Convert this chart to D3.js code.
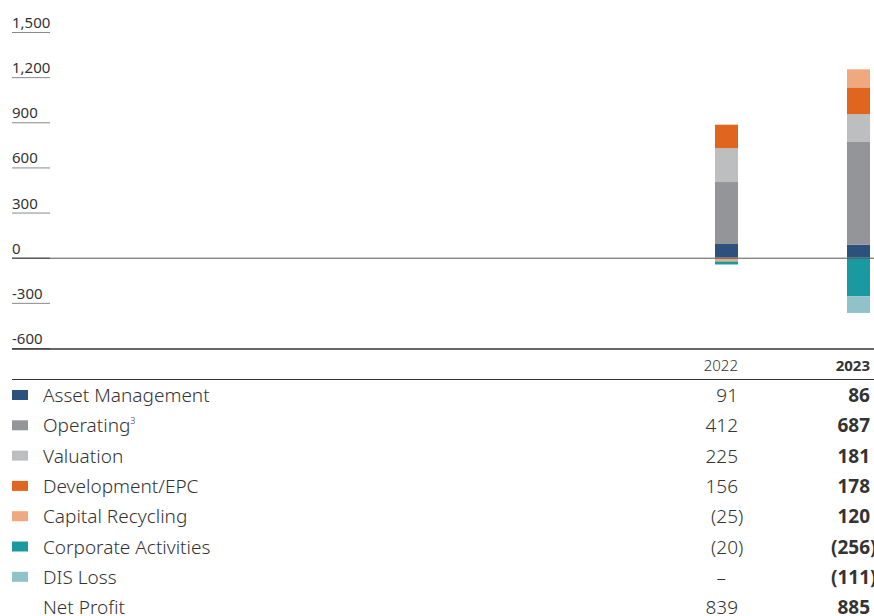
<!DOCTYPE html>
<html>
<head>
<meta charset="utf-8">
<script src="https://cdn.jsdelivr.net/npm/d3@7"></script>
<style>
  body { margin: 0; background: #fff; }
  svg text { font-family: "Noto Sans", "Open Sans", sans-serif; fill: #333; }
</style>
</head>
<body>
<svg id="chart" width="874" height="616"></svg>
<script>
var years = ["2022", "2023"];
var segments = ["Asset Management", "Operating", "Valuation", "Development/EPC",
                "Capital Recycling", "Corporate Activities", "DIS Loss"];
var colors = ["#2b517c", "#939598", "#bcbec0", "#e0661f", "#f0a97e", "#1a9aa0", "#8fc3c9"];
var values2022 = [91, 412, 225, 156, -25, -20, 0];
var values2023 = [86, 687, 181, 178, 120, -256, -111];
var netProfit = [839, 885];
var yTicks = [-600, -300, 0, 300, 600, 900, 1200, 1500];

var svg = d3.select("#chart");
var W = 874;

var y = d3.scaleLinear().domain([-600, 1500]).range([348, 32]);
var x = d3.scalePoint().domain(years).range([726.5, 858.5]);
var barW = 23;

// stacked data
var rows = years.map(function(yr, i) {
    var v = i == 0 ? values2022 : values2023;
    var r = { year: yr };
    segments.forEach(function(s, j) { r[s] = v[j]; });
    return r;
});
var stack = d3.stack().keys(segments).offset(d3.stackOffsetDiverging);
var series = stack(rows);

// y axis labels with short underlines
var tickFmt = function(t) { return d3.format(",")(t).replace("\u2212", "-"); };
var ticks = svg.append("g");
yTicks.forEach(function(t) {
    ticks.append("line")
        .attr("x1", 12).attr("x2", 50)
        .attr("y1", y(t) + 0.5).attr("y2", y(t) + 0.5)
        .attr("stroke", t == 0 ? "#333" : "#888").attr("stroke-width", 1);
    ticks.append("text")
        .attr("x", 12).attr("y", y(t) - 4)
        .attr("font-size", 15)
        .text(tickFmt(t));
});

// bars
svg.append("g").selectAll("g")
    .data(series)
    .join("g")
    .attr("fill", function(d, i) { return colors[i]; })
    .selectAll("rect")
    .data(function(d) { return d; })
    .join("rect")
    .attr("x", function(d) { return x(d.data.year) - barW / 2; })
    .attr("width", barW)
    .attr("y", function(d) { return y(Math.max(d[0], d[1])); })
    .attr("height", function(d) { return Math.abs(y(d[0]) - y(d[1])); });

// zero line
svg.append("line")
    .attr("x1", 12).attr("x2", W)
    .attr("y1", y(0) + 0.5).attr("y2", y(0) + 0.5)
    .attr("stroke", "#555").attr("stroke-width", 1);

// bottom rule at -600 and header rule
svg.append("line")
    .attr("x1", 12).attr("x2", W)
    .attr("y1", y(-600) + 1).attr("y2", y(-600) + 1)
    .attr("stroke", "#333").attr("stroke-width", 1.5);
svg.append("line")
    .attr("x1", 12).attr("x2", W)
    .attr("y1", 379.5).attr("y2", 379.5)
    .attr("stroke", "#333").attr("stroke-width", 1);

// year header
years.forEach(function(yr, i) {
    svg.append("text")
        .attr("x", x(yr) + barW / 2).attr("y", 371)
        .attr("text-anchor", "end")
        .attr("font-size", 15)
        .attr("font-weight", i == 1 ? 700 : 300)
        .text(yr);
});

// table
var rowY0 = 402, rowH = 30.3, fs = 19;

function fmt(v) {
    if (v == 0) return { main: "\u2013", close: "" };
    if (v < 0) return { main: "(" + Math.abs(v), close: ")" };
    return { main: String(v), close: "" };
}

function putValue(v, yr, ry, bold) {
    var f = fmt(v);
    var xr = x(yr) + barW / 2;
    if (v == 0) xr -= 12;
    svg.append("text")
        .attr("x", xr).attr("y", ry)
        .attr("text-anchor", "end")
        .attr("font-size", fs)
        .attr("font-weight", bold ? 700 : 300)
        .text(f.main);
    if (f.close)
        svg.append("text")
            .attr("x", xr).attr("y", ry)
            .attr("font-size", fs)
            .attr("font-weight", bold ? 700 : 300)
            .text(f.close);
}

segments.forEach(function(s, i) {
    var ry = rowY0 + i * rowH;
    svg.append("rect")
        .attr("x", 12).attr("y", ry - 12)
        .attr("width", 16).attr("height", 10)
        .attr("fill", colors[i]);
    var t = svg.append("text")
        .attr("x", 43).attr("y", ry)
        .attr("font-size", fs)
        .attr("font-weight", 300)
        .text(s);
    if (s == "Operating")
        t.append("tspan").attr("font-size", 9).attr("dy", -8).text("3");
    putValue(values2022[i], "2022", ry, false);
    putValue(values2023[i], "2023", ry, true);
});

var netY = rowY0 + segments.length * rowH;
svg.append("text")
    .attr("x", 43).attr("y", netY)
    .attr("font-size", fs)
    .attr("font-weight", 300)
    .text("Net Profit");
putValue(netProfit[0], "2022", netY, false);
putValue(netProfit[1], "2023", netY, true);
</script>
</body>
</html>
